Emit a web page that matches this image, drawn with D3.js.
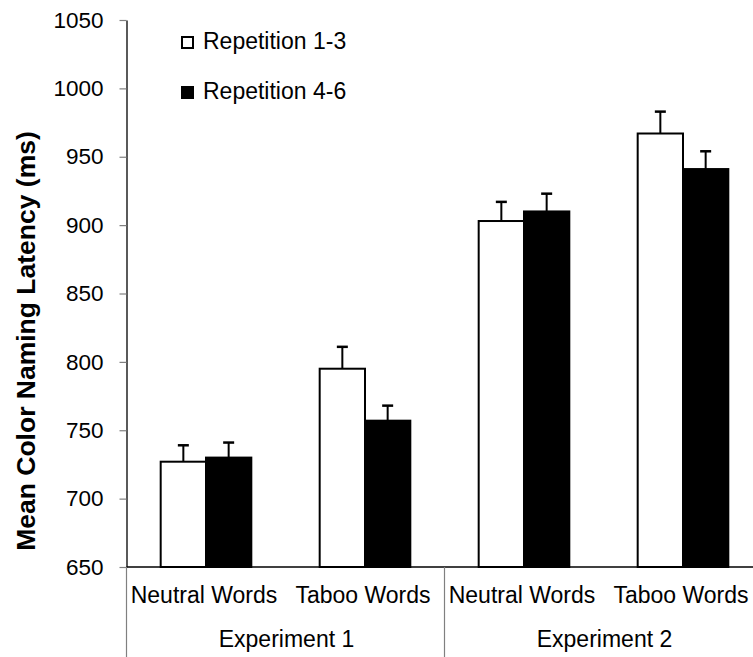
<!DOCTYPE html>
<html>
<head>
<meta charset="utf-8">
<script src="https://cdn.jsdelivr.net/npm/d3@7"></script>
<style>
  html, body { margin: 0; padding: 0; background: #fff; }
  svg { display: block; font-family: "Liberation Sans", Arial, sans-serif; }
</style>
</head>
<body>
<svg id="chart" width="753" height="657"></svg>
<script>
const categories = ["Neutral Words", "Taboo Words", "Neutral Words", "Taboo Words"];
const experiments = ["Experiment 1", "Experiment 2"];
const seriesNames = ["Repetition 1-3", "Repetition 4-6"];
const rep13 = [727, 795, 903, 967];
const rep46 = [730, 757, 910, 941];
const err13 = [12, 16, 14, 16];
const err46 = [11, 11, 13, 13];
const yTicks = [650, 700, 750, 800, 850, 900, 950, 1000, 1050];

(function () {
const svg = d3.select("#chart");
const mLeft = 126.5, mRight = 762.5, mTop = 20, mBottom = 567;

const y = d3.scaleLinear().domain([650, 1050]).range([mBottom, mTop]);
const x0 = d3.scaleBand().domain(d3.range(categories.length))
  .range([mLeft, mRight]).paddingInner(0.43).paddingOuter(0.215);
const x1 = d3.scaleBand().domain(seriesNames).range([0, x0.bandwidth()]);

const fills = { "Repetition 1-3": "#ffffff", "Repetition 4-6": "#000000" };
const data = categories.map((c, i) => ({
  i, cat: c,
  vals: [
    { s: seriesNames[0], v: rep13[i], e: err13[i] },
    { s: seriesNames[1], v: rep46[i], e: err46[i] }
  ]
}));

// y axis
const yAxis = d3.axisLeft(y).tickValues(yTicks).tickFormat(d3.format("d"))
  .tickSize(7).tickSizeOuter(0).tickPadding(16);
const gy = svg.append("g").attr("transform", `translate(${mLeft},0)`).call(yAxis);
gy.select(".domain").attr("stroke", "#000").attr("stroke-width", 1.3);
gy.selectAll(".tick line").attr("stroke", "#808080").attr("stroke-width", 1.2);
gy.selectAll(".tick text").attr("font-size", 22.5).attr("fill", "#000")
  .attr("font-family", "'Liberation Sans', Arial, sans-serif");

// y title
svg.append("text")
  .attr("transform", "translate(35,341) rotate(-90)")
  .attr("text-anchor", "middle")
  .attr("font-size", 26.5)
  .attr("font-weight", "bold")
  .text("Mean Color Naming Latency (ms)");

// bars
const groups = svg.append("g").selectAll("g").data(data).join("g")
  .attr("transform", d => `translate(${x0(d.i)},0)`);

groups.selectAll("rect").data(d => d.vals).join("rect")
  .attr("x", d => x1(d.s))
  .attr("y", d => y(d.v))
  .attr("width", x1.bandwidth())
  .attr("height", d => y(650) - y(d.v))
  .attr("fill", d => fills[d.s])
  .attr("stroke", "#000")
  .attr("stroke-width", 2);

// error bars (upper only)
groups.selectAll("line.err").data(d => d.vals).join("line")
  .attr("class", "err")
  .attr("x1", d => x1(d.s) + x1.bandwidth() / 2)
  .attr("x2", d => x1(d.s) + x1.bandwidth() / 2)
  .attr("y1", d => y(d.v))
  .attr("y2", d => y(d.v + d.e))
  .attr("stroke", "#000").attr("stroke-width", 2);
groups.selectAll("line.cap").data(d => d.vals).join("line")
  .attr("class", "cap")
  .attr("x1", d => x1(d.s) + x1.bandwidth() / 2 - 5.5)
  .attr("x2", d => x1(d.s) + x1.bandwidth() / 2 + 5.5)
  .attr("y1", d => y(d.v + d.e))
  .attr("y2", d => y(d.v + d.e))
  .attr("stroke", "#000").attr("stroke-width", 2.5);

// x axis line
svg.append("line").attr("x1", mLeft).attr("x2", mRight)
  .attr("y1", y(650)).attr("y2", y(650))
  .attr("stroke", "#000").attr("stroke-width", 1.3);

// category labels
svg.append("g").selectAll("text").data(data).join("text")
  .attr("x", d => x0(d.i) + x0.bandwidth() / 2 - 2)
  .attr("y", 603)
  .attr("text-anchor", "middle")
  .attr("font-size", 23)
  .text(d => d.cat);

// experiment dividers and labels
const step = x0.step();
const expEdges = [mLeft, mLeft + 2 * step, mLeft + 4 * step];
svg.append("g").selectAll("line").data(expEdges).join("line")
  .attr("x1", d => d).attr("x2", d => d)
  .attr("y1", y(650)).attr("y2", 657)
  .attr("stroke", "#808080").attr("stroke-width", 1.2);
svg.append("g").selectAll("text").data(experiments).join("text")
  .attr("x", (d, i) => (expEdges[i] + expEdges[i + 1]) / 2 + 1)
  .attr("y", 647)
  .attr("text-anchor", "middle")
  .attr("font-size", 23)
  .text(d => d);

// legend
const legend = svg.append("g").selectAll("g").data(seriesNames).join("g")
  .attr("transform", (d, i) => `translate(181,${36 + i * 50})`);
legend.append("rect")
  .attr("x", 1).attr("y", 1).attr("width", 11).attr("height", 11)
  .attr("fill", d => fills[d]).attr("stroke", "#000").attr("stroke-width", 2);
legend.append("text")
  .attr("x", 22).attr("y", 12.5)
  .attr("font-size", 23)
  .text(d => d);
})();
</script>
</body>
</html>
